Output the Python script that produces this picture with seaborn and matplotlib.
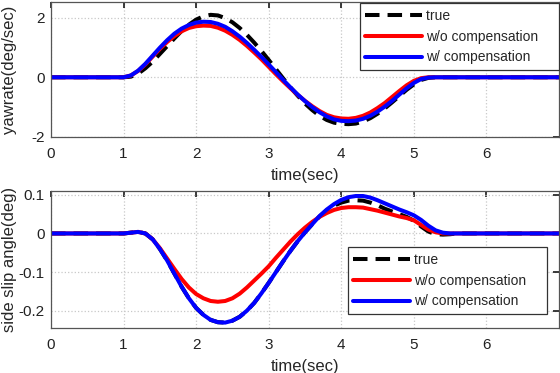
import numpy as np
import pandas as pd
import matplotlib
matplotlib.use("Agg")
import matplotlib.pyplot as plt
import seaborn as sns

# time axis (sec)
time = [0.0, 0.5, 1.0, 1.1, 1.2, 1.3, 1.4, 1.5, 1.6, 1.7, 1.8, 1.9,
        2.0, 2.1, 2.2, 2.3, 2.4, 2.5, 2.6, 2.7, 2.8, 2.9,
        3.0, 3.1, 3.2, 3.3, 3.4, 3.5, 3.6, 3.7, 3.8, 3.9,
        4.0, 4.1, 4.2, 4.3, 4.4, 4.5, 4.6, 4.7, 4.8, 4.9,
        5.0, 5.1, 5.2, 5.3, 5.4, 5.5, 5.6, 6.0, 6.5, 7.0]

# yaw rate (deg/sec)
yaw_true = [0, 0, 0, 0.02, 0.12, 0.30, 0.52, 0.78, 1.04, 1.30, 1.55, 1.76,
            1.93, 2.04, 2.09, 2.07, 1.98, 1.84, 1.65, 1.42, 1.16, 0.88,
            0.58, 0.27, -0.04, -0.34, -0.62, -0.88, -1.10, -1.29, -1.43, -1.52,
            -1.56, -1.57, -1.55, -1.48, -1.37, -1.22, -1.04, -0.84, -0.63, -0.42,
            -0.24, -0.09, -0.02, 0, 0, 0, 0, 0, 0, 0]
yaw_wo = [0, 0, 0, 0.06, 0.21, 0.43, 0.69, 0.95, 1.18, 1.38, 1.54, 1.65,
          1.71, 1.73, 1.72, 1.66, 1.56, 1.42, 1.25, 1.05, 0.83, 0.60,
          0.35, 0.10, -0.14, -0.37, -0.59, -0.79, -0.97, -1.13, -1.26, -1.34,
          -1.38, -1.39, -1.36, -1.29, -1.18, -1.03, -0.86, -0.66, -0.46, -0.27,
          -0.12, -0.03, 0, 0, 0, 0, 0, 0, 0, 0]
yaw_w = [0, 0, 0, 0.06, 0.22, 0.45, 0.72, 0.99, 1.24, 1.46, 1.63, 1.75,
         1.83, 1.86, 1.85, 1.79, 1.69, 1.54, 1.36, 1.15, 0.92, 0.68,
         0.43, 0.17, -0.09, -0.34, -0.58, -0.80, -1.00, -1.17, -1.31, -1.41,
         -1.46, -1.47, -1.45, -1.39, -1.29, -1.15, -0.98, -0.79, -0.58, -0.37,
         -0.19, -0.06, -0.01, 0, 0, 0, 0, 0, 0, 0]

# side slip angle (deg)
beta_true = [0, 0, 0, 0.002, 0.004, 0.0, -0.015, -0.040, -0.070, -0.104, -0.138, -0.168,
             -0.193, -0.211, -0.224, -0.230, -0.231, -0.226, -0.216, -0.200, -0.180, -0.155,
             -0.128, -0.100, -0.072, -0.045, -0.020, 0.003, 0.024, 0.044, 0.060, 0.072,
             0.080, 0.085, 0.086, 0.085, 0.080, 0.073, 0.064, 0.057, 0.050, 0.043,
             0.033, 0.018, 0.005, -0.002, -0.003, -0.002, 0, 0, 0, 0]
beta_wo = [0, 0, 0, 0.002, 0.004, 0.0, -0.015, -0.038, -0.065, -0.092, -0.118, -0.140,
           -0.157, -0.168, -0.175, -0.177, -0.175, -0.168, -0.156, -0.140, -0.122, -0.104,
           -0.085, -0.063, -0.042, -0.021, -0.002, 0.015, 0.030, 0.043, 0.053, 0.061,
           0.066, 0.068, 0.068, 0.067, 0.063, 0.059, 0.054, 0.049, 0.044, 0.040,
           0.034, 0.022, 0.010, 0.003, 0, 0, 0, 0, 0, 0]
beta_w = [0, 0, 0, 0.002, 0.004, 0.0, -0.015, -0.040, -0.070, -0.104, -0.138, -0.168,
          -0.193, -0.211, -0.224, -0.230, -0.231, -0.226, -0.216, -0.200, -0.180, -0.155,
          -0.128, -0.100, -0.072, -0.045, -0.020, 0.003, 0.024, 0.045, 0.062, 0.076,
          0.087, 0.094, 0.097, 0.097, 0.093, 0.086, 0.078, 0.070, 0.062, 0.055,
          0.047, 0.035, 0.020, 0.008, 0.002, 0, 0, 0, 0, 0]

labels = ["true", "w/o compensation", "w/ compensation"]
colors = ["black", "#ff0000", "#0000ff"]
styles = [(0, (3.6, 2.0)), "-", "-"]

sns.set_theme(style="white")
plt.rcParams["font.family"] = ["Liberation Sans", "DejaVu Sans"]

fig = plt.figure(figsize=(5.6, 3.73), dpi=100)
ax1 = fig.add_axes([51 / 560, 1 - 137 / 373, 508 / 560, 135 / 373])
ax2 = fig.add_axes([51 / 560, 1 - 328 / 373, 508 / 560, 137 / 373])


def draw(ax, series, ylim, yticks, ylabel):
    for vals, lab, col, ls in zip(series, labels, colors, styles):
        df = pd.DataFrame({"t": time, "v": vals})
        sns.lineplot(data=df, x="t", y="v", ax=ax, color=col, linestyle=ls,
                     linewidth=2.9, label=lab, estimator=None, sort=False)
    ax.set_xlim(0, 7)
    ax.set_ylim(*ylim)
    ax.set_xticks([0, 1, 2, 3, 4, 5, 6])
    ax.set_yticks(yticks)
    ax.set_yticklabels([("%g" % v) for v in yticks])
    ax.grid(True, color="#c8c8c8", linestyle=":", linewidth=0.9)
    ax.tick_params(direction="in", length=4, labelsize=11, colors="#222222",
                   top=True, right=True)
    ax.tick_params(axis="x", pad=7)
    ax.tick_params(axis="y", pad=4.5)
    for s in ax.spines.values():
        s.set_color("#555555")
        s.set_linewidth(0.9)
    ax.set_xlabel("time(sec)", fontsize=12, labelpad=5)
    ax.set_ylabel(ylabel, fontsize=12)


draw(ax1, [yaw_true, yaw_wo, yaw_w], (-2, 2.52), [-2, 0, 2], "yawrate(deg/sec)")
draw(ax2, [beta_true, beta_wo, beta_w], (-0.245, 0.11), [-0.2, -0.1, 0, 0.1],
     "side slip angle(deg)")

ax1.yaxis.set_label_coords(-0.066, 0.5)
ax2.yaxis.set_label_coords(-0.066, 0.5)

leg_kw = dict(fontsize=10, handlelength=4.1, handletextpad=0.25, borderpad=0.4,
              labelspacing=0.5, fancybox=False, framealpha=1, edgecolor="#333333",
              borderaxespad=0)
pad = "    "
l1 = ax1.legend([l + pad for l in labels], loc="upper right",
                bbox_to_anchor=(559 / 560, 1 - 3 / 373),
                bbox_transform=fig.transFigure, **leg_kw)
l2 = ax2.legend([l + pad for l in labels], loc="lower right",
                bbox_to_anchor=(547 / 560, 1 - 314 / 373),
                bbox_transform=fig.transFigure, **leg_kw)
for l in (l1, l2):
    l.get_frame().set_linewidth(0.9)

fig.savefig("out.png", dpi=100)
